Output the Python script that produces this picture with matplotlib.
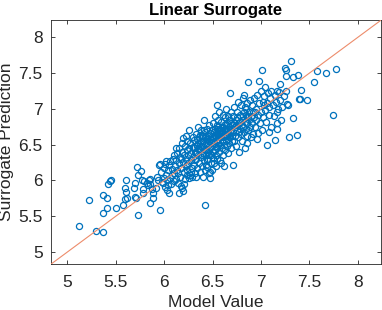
import matplotlib.pyplot as plt

# points, grouped roughly by model value
model_value = [
    5.12, 5.22, 5.29, 5.37, 5.37, 5.37, 5.41, 5.41, 5.42, 5.44, 5.45, 5.50, 5.57, 5.59, 5.60, 5.59,
    5.61, 5.62, 5.69, 5.70, 5.70, 5.71, 5.72, 5.73, 5.73, 5.76, 5.77, 5.78, 5.78, 5.79, 5.82, 5.84,
    5.85, 5.85, 5.85, 5.88, 5.88, 5.87, 5.83,
    5.93, 5.95, 5.96, 5.96, 5.97, 5.98, 5.99, 6.00, 6.00, 6.01, 6.01, 6.02, 6.02, 6.03, 6.03, 6.04,
    6.05, 6.05, 6.06, 6.06, 6.07, 6.08, 6.08, 6.09, 6.10, 6.10, 6.10, 5.94, 5.92, 6.04,
    6.11, 6.12, 6.12, 6.13, 6.14, 6.14, 6.15, 6.15, 6.16, 6.16, 6.17, 6.17, 6.18, 6.18, 6.19, 6.19,
    6.19, 6.20, 6.20, 6.21, 6.21, 6.22, 6.22, 6.23, 6.23, 6.24, 6.24, 6.25, 6.25, 6.26, 6.26, 6.27,
    6.27, 6.28, 6.28, 6.29, 6.29, 6.30, 6.30, 6.30, 6.12, 6.18, 6.22, 6.26, 6.15, 6.20, 6.28, 6.24,
    6.17, 6.13,
    6.31, 6.31, 6.32, 6.32, 6.33, 6.33, 6.33, 6.34, 6.34, 6.35, 6.35, 6.35, 6.36, 6.36, 6.37, 6.37,
    6.37, 6.38, 6.38, 6.38, 6.39, 6.39, 6.40, 6.40, 6.40, 6.41, 6.41, 6.41, 6.42, 6.42, 6.42, 6.42,
    6.43, 6.43, 6.43, 6.44, 6.44, 6.44, 6.45, 6.45, 6.45, 6.46, 6.46, 6.46, 6.47, 6.47, 6.47, 6.47,
    6.48, 6.48, 6.48, 6.49, 6.49, 6.49, 6.50, 6.50, 6.50, 6.50, 6.34, 6.36, 6.39, 6.41, 6.44, 6.46,
    6.48, 6.32, 6.35, 6.38, 6.40, 6.42, 6.45, 6.47, 6.49, 6.33, 6.37, 6.43, 6.46, 6.31, 6.39, 6.44,
    6.51, 6.51, 6.51, 6.52, 6.52, 6.52, 6.53, 6.53, 6.53, 6.54, 6.54, 6.54, 6.55, 6.55, 6.55, 6.56,
    6.56, 6.56, 6.57, 6.57, 6.57, 6.58, 6.58, 6.58, 6.59, 6.59, 6.59, 6.60, 6.60, 6.60, 6.61, 6.61,
    6.61, 6.62, 6.62, 6.62, 6.62, 6.63, 6.63, 6.63, 6.64, 6.64, 6.64, 6.65, 6.65, 6.65, 6.66, 6.66,
    6.66, 6.67, 6.67, 6.67, 6.68, 6.68, 6.68, 6.69, 6.69, 6.69, 6.70, 6.70, 6.70, 6.71, 6.52, 6.55,
    6.58, 6.61, 6.63, 6.66, 6.53, 6.56, 6.59, 6.62, 6.65, 6.68, 6.54, 6.57, 6.60, 6.64, 6.67, 6.69,
    6.71, 6.71, 6.72, 6.72, 6.73, 6.73, 6.74, 6.74, 6.75, 6.75, 6.76, 6.76, 6.77, 6.77, 6.78, 6.78,
    6.79, 6.79, 6.80, 6.80, 6.81, 6.81, 6.82, 6.82, 6.83, 6.83, 6.84, 6.84, 6.85, 6.85, 6.86, 6.86,
    6.87, 6.87, 6.88, 6.88, 6.89, 6.89, 6.90, 6.90, 6.72, 6.75, 6.78, 6.81, 6.84, 6.87, 6.74, 6.77,
    6.80, 6.83, 6.82, 6.86,
    6.91, 6.91, 6.92, 6.92, 6.93, 6.93, 6.94, 6.95, 6.95, 6.96, 6.96, 6.97, 6.98, 6.98, 6.99, 7.00,
    7.00, 7.01, 7.01, 7.02, 7.02, 7.03, 7.04, 7.04, 7.05, 7.06, 7.06, 7.07, 7.08, 7.08, 7.09, 7.10,
    7.10, 6.94, 7.03, 6.97, 7.08, 7.16,
    7.12, 7.13, 7.14, 7.14, 7.15, 7.16, 7.17, 7.17, 7.18, 7.19, 7.20, 7.20, 7.21, 7.22, 7.24, 7.26,
    7.27, 7.25, 7.26, 7.29, 7.31, 7.33, 7.33, 7.37, 7.38, 7.39, 7.40, 7.41, 7.47, 7.28, 7.26,
    7.55, 7.58, 7.67, 7.74, 7.77,
]
surrogate_pred = [
    5.36, 5.72, 5.29, 5.28, 5.55, 5.80, 5.76, 5.61, 5.95, 5.99, 6.00, 5.61, 5.65, 5.90, 5.84, 5.74,
    6.00, 5.76, 5.90, 5.77, 5.96, 5.76, 6.19, 5.52, 6.08, 6.13, 6.00, 5.88, 5.83, 5.99, 5.97, 6.00,
    6.02, 5.95, 5.69, 5.83, 5.76, 5.88, 5.93,
    6.05, 6.22, 5.59, 6.23, 6.12, 5.98, 5.96, 6.03, 6.18, 6.23, 5.91, 6.08, 6.27, 5.87, 6.00, 6.14,
    5.82, 6.21, 6.27, 6.04, 5.95, 6.08, 6.16, 6.30, 6.35, 5.99, 6.11, 6.00, 5.90, 5.93,
    6.20, 6.02, 6.28, 6.38, 6.11, 5.96, 6.24, 6.45, 6.05, 6.33, 6.17, 5.92, 5.89, 6.40, 5.85, 6.59,
    6.26, 6.12, 6.36, 6.02, 6.48, 6.20, 6.30, 6.42, 6.08, 6.55, 6.15, 6.35, 6.25, 6.45, 6.03, 6.08,
    6.52, 6.28, 6.38, 6.05, 6.18, 6.47, 6.60, 6.33, 6.45, 6.52, 6.62, 6.70, 5.83, 5.95, 6.12, 6.22,
    6.30, 6.15,
    6.22, 6.56, 6.10, 6.40, 6.05, 6.65, 6.30, 6.48, 6.18, 6.52, 6.36, 6.75, 6.25, 6.60, 6.64, 6.43,
    6.12, 6.33, 6.55, 6.70, 6.20, 6.47, 6.05, 6.62, 6.38, 6.85, 6.28, 6.52, 5.65, 6.15, 6.44, 6.68,
    6.58, 6.35, 6.22, 6.19, 6.50, 6.72, 6.40, 6.62, 6.30, 6.10, 6.55, 6.78, 6.03, 6.12, 6.46, 6.66,
    6.36, 6.58, 6.25, 6.70, 6.48, 6.15, 6.60, 6.40, 6.80, 6.32, 6.58, 6.42, 6.62, 6.70, 6.58, 6.44,
    6.52, 6.28, 6.45, 6.48, 6.55, 6.62, 6.52, 6.58, 6.62, 6.38, 6.52, 6.42, 6.35, 6.45, 6.35, 6.28,
    6.52, 6.25, 6.68, 6.72, 6.42, 6.90, 6.60, 6.35, 6.20, 6.55, 6.78, 7.05, 6.45, 6.65, 6.30, 6.58,
    6.85, 6.74, 6.40, 6.62, 6.95, 6.50, 6.70, 6.28, 6.24, 6.60, 6.82, 6.55, 6.75, 6.45, 6.35, 6.68,
    6.92, 6.60, 6.78, 6.50, 6.20, 6.72, 6.42, 6.88, 6.62, 6.55, 7.00, 6.70, 6.48, 6.80, 6.58, 6.38,
    6.90, 6.65, 6.75, 6.52, 7.22, 6.60, 6.85, 6.45, 6.70, 6.95, 6.62, 6.78, 6.55, 6.21, 6.62, 6.72,
    6.62, 6.75, 6.65, 6.72, 6.48, 6.52, 6.68, 6.70, 6.62, 6.68, 6.65, 6.72, 6.65, 6.78, 6.85, 6.80,
    6.68, 6.90, 6.55, 7.02, 6.75, 6.62, 6.85, 6.48, 6.95, 6.70, 7.10, 6.60, 6.80, 6.40, 6.72, 6.92,
    6.65, 7.05, 6.85, 6.55, 6.75, 7.15, 6.95, 6.68, 6.82, 6.45, 7.00, 6.72, 6.90, 6.62, 7.08, 6.80,
    7.37, 6.70, 6.95, 6.85, 6.75, 7.12, 6.90, 6.60, 6.80, 6.88, 6.82, 6.90, 6.92, 6.88, 6.78, 6.68,
    6.78, 7.02, 7.19, 6.52,
    6.80, 7.05, 6.95, 6.65, 7.15, 6.88, 6.75, 7.00, 6.85, 7.20, 6.58, 6.92, 7.39, 7.08, 6.80, 7.25,
    6.95, 7.55, 6.70, 7.10, 6.88, 7.18, 6.98, 7.30, 6.82, 6.49, 7.08, 7.22, 6.92, 7.02, 7.15, 6.75,
    7.25, 6.95, 7.05, 6.66, 6.68, 6.80,
    7.05, 6.90, 6.56, 7.20, 7.10, 6.95, 6.72, 7.25, 7.00, 7.24, 7.12, 7.35, 6.85, 7.02, 7.18, 7.25,
    7.07, 7.57, 7.46, 6.60, 7.67, 7.44, 6.87, 6.63, 7.48, 7.14, 7.14, 7.27, 7.12, 7.05, 7.55,
    7.37, 7.53, 7.50, 6.91, 7.56,
]

lims = [4.83, 8.24]
ticks = [5, 5.5, 6, 6.5, 7, 7.5, 8]
tick_labels = ['5', '5.5', '6', '6.5', '7', '7.5', '8']

plt.rcParams['font.family'] = ['Liberation Sans', 'DejaVu Sans']
axcol = (0.15, 0.15, 0.15)

fig = plt.figure(figsize=(3.82, 3.10), dpi=100)
ax = fig.add_axes([0.1335, 0.148, 0.864, 0.787])

ax.plot(model_value, surrogate_pred, 'o', mfc='none', mec=(0, 0.447, 0.741),
        ms=4.4, mew=0.9, zorder=2)
ax.plot(lims, lims, '-', color=(0.93, 0.55, 0.42), lw=0.8, zorder=3)

ax.set_xlim(lims)
ax.set_ylim(lims)
ax.set_xticks(ticks)
ax.set_xticklabels(tick_labels)
ax.set_yticks(ticks)
ax.set_yticklabels(tick_labels)
ax.tick_params(direction='in', length=3, width=0.6, top=True, right=True,
               labelsize=12.5, colors=axcol, pad=6)
ax.tick_params(axis='x', pad=8)
for s in ax.spines.values():
    s.set_color(axcol)
    s.set_linewidth(0.6)

ax.set_title('Linear Surrogate', fontsize=12, fontweight='bold', pad=4)
ax.set_xlabel('Model Value', fontsize=12.5, color=axcol)
ax.set_ylabel('Surrogate Prediction', fontsize=12.5, color=axcol)
ax.xaxis.set_label_coords(0.5, -0.128)
ax.yaxis.set_label_coords(-0.112, 0.5)

fig.savefig('out.png', dpi=100)
